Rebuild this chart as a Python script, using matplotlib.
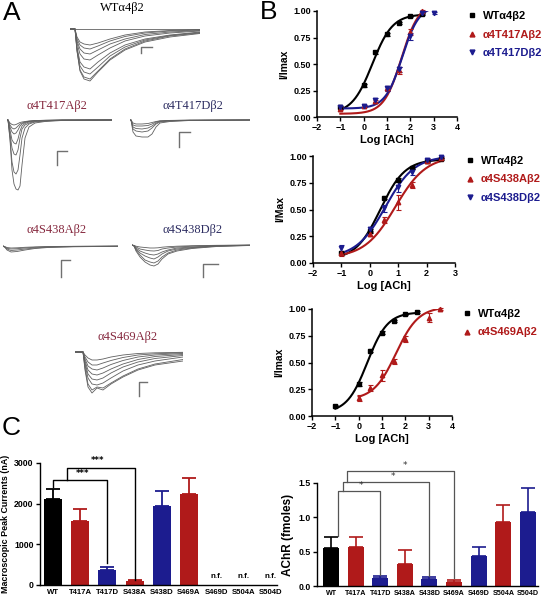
import numpy as np
import matplotlib
matplotlib.use('Agg')
import matplotlib.pyplot as plt
from matplotlib.lines import Line2D

W, H = 541, 600
fig = plt.figure(figsize=(W / 100, H / 100), dpi=100)

RED = '#b01a1a'
BLUE = '#1c1c8f'
MAROON = '#86293f'
NAVY = '#2e2e62'
TRACE = '#606060'
SANS = ['Liberation Sans', 'DejaVu Sans']
SERIF = ['Liberation Serif', 'DejaVu Serif']


def px_axes(x0, y0, x1, y1):
    return fig.add_axes([x0 / W, 1 - y1 / H, (x1 - x0) / W, (y1 - y0) / H])


# ---------------- Panel A data: current traces (inward amplitude, arbitrary units) ----------------
wt_t = [0, 5, 7, 10, 14, 20, 28, 40, 55, 75, 100, 130]
wt_traces = [
    [0, 0, 0, 0, 0, 0, 0, 0, 0, 0, 0, 0],
    [0, 0, 8, 13, 15, 16, 14, 10, 6, 3, 1.5, 0.5],
    [0, 0, 10, 16, 19, 20, 17, 12, 7.5, 4, 2, 1],
    [0, 0, 12, 20, 24, 25, 21, 15, 10, 5.5, 3, 1.5],
    [0, 0, 14, 25, 30, 31, 26, 19, 12, 7, 4, 2],
    [0, 0, 18, 33, 38, 40, 33, 24, 16, 10, 6, 3],
    [0, 0, 20, 37, 43, 45, 38, 27, 18, 11, 6.5, 3.5],
    [0, 0, 22, 41, 48, 50, 42, 30, 20, 12, 7, 4],
    [0, 0, 22, 42, 50, 52, 43, 31, 21, 13, 8, 4.5],
]
t417a_t = [0, 1, 3, 5, 7, 9, 11, 13, 15, 18, 22, 28, 38, 55, 105]
t417a_traces = [
    [0, 0, 3, 4.5, 5, 4.5, 3.5, 2.5, 2, 1.5, 1, 0.5, 0.3, 0.1, 0],
    [0, 0, 5, 8, 9, 8, 6, 4, 3, 2, 1.2, 0.6, 0.3, 0.1, 0],
    [0, 0, 7, 12, 14, 13, 10, 6, 4, 2.5, 1.5, 0.8, 0.4, 0.1, 0],
    [0, 0, 10, 20, 23, 24, 19, 11, 6, 3.5, 2, 1, 0.5, 0.2, 0],
    [0, 0, 14, 28, 34, 35, 30, 18, 9, 5, 3, 1.5, 0.8, 0.2, 0],
    [0, 0, 18, 42, 52, 54, 50, 35, 18, 8, 4, 2, 1, 0.3, 0],
    [0, 0, 20, 50, 64, 69, 70, 66, 45, 18, 7, 3, 1.5, 0.5, 0],
]
t417d_t = [0, 1, 3, 6, 12, 18, 22, 26, 30, 40, 60, 120]
t417d_traces = [
    [0, 0, 3, 4, 4, 3.5, 2.5, 1.5, 0.8, 0.4, 0.1, 0],
    [0, 0, 5, 6, 6, 5.5, 4, 2, 1, 0.5, 0.2, 0],
    [0, 0, 7, 8.5, 9, 8, 6, 3, 1.5, 0.8, 0.3, 0],
    [0, 0, 9, 11, 12, 11, 8, 4, 2, 1, 0.4, 0],
    [0, 0, 12, 16, 17, 17, 14, 7, 3, 1.5, 0.5, 0],
]
s438a_t = [0, 2, 4, 8, 14, 22, 32, 45, 70, 115]
s438a_traces = [
    [0, 0.7, 1.5, 2, 1.8, 1.3, 0.9, 0.5, 0.3, 0.1],
    [0, 1, 2.3, 3, 2.7, 2, 1.3, 0.8, 0.4, 0.1],
    [0, 1.2, 3, 4.5, 4, 3, 2, 1.2, 0.6, 0.2],
    [0, 1.5, 4, 6, 5.5, 4, 2.5, 1.5, 0.8, 0.3],
]
s438d_t = [0, 2, 4, 8, 13, 18, 22, 26, 30, 36, 45, 60, 85, 118]
s438d_traces = [
    [0, 0.4, 1.2, 2, 2.5, 3, 3, 2.8, 2.2, 1.7, 1.2, 0.7, 0.3, 0.1],
    [0, 0.6, 2, 4, 5, 5.8, 6, 5.5, 4, 3, 2, 1.2, 0.5, 0.1],
    [0, 0.8, 3, 6, 8, 9.5, 10, 9, 7, 5, 3, 2, 0.8, 0.2],
    [0, 1, 4, 8, 11, 13, 14, 12, 9, 6, 4, 2.5, 1, 0.3],
    [0, 1, 5, 10, 15, 17, 18, 16, 12, 8, 5, 3, 1.2, 0.4],
    [0, 1, 6, 12, 17, 20, 21, 19, 14, 9, 6, 3.5, 1.5, 0.5],
]
s469a_t = [0, 8, 10, 13, 17, 22, 28, 36, 48, 63, 80, 108]
s469a_traces = [
    [0, 0, 3, 6, 8, 8, 7, 5, 3, 1.5, 0.8, 0.3],
    [0, 0, 5, 10, 13, 13, 11, 8.5, 5.5, 3, 1.8, 0.8],
    [0, 0, 7, 14, 17, 18, 16, 12.5, 8.5, 5, 3, 1.5],
    [0, 0, 9, 18, 22, 23, 21, 17, 12, 7.5, 4.5, 2.5],
    [0, 0, 11, 22, 27, 28, 26, 21, 15, 10, 6.5, 3.5],
    [0, 0, 13, 26, 32, 33, 31, 26, 19, 13, 9, 5],
    [0, 0, 16, 32, 38, 35, 36, 31, 24, 17, 12, 7.5],
    [0, 0, 18, 35, 41, 36, 38, 32, 25, 18, 13, 9],
]
trace_titles = ['WTα4β2', 'α4T417Aβ2', 'α4T417Dβ2', 'α4S438Aβ2', 'α4S438Dβ2', 'α4S469Aβ2']

# layout of panel A: (x start px, baseline px, title x, title y, title colour, scale bar corner x, y, h len, v len)
a_layout = [
    (wt_t, wt_traces, 70, 29, 122, 8, 'black', 141, 47, 11, 6),
    (t417a_t, t417a_traces, 7, 120, 57, 106, MAROON, 57, 151, 10, 14),
    (t417d_t, t417d_traces, 130, 120, 193, 106, NAVY, 179, 132, 11, 15),
    (s438a_t, s438a_traces, 3, 246, 57, 230, MAROON, 61, 260, 9, 17),
    (s438d_t, s438d_traces, 132, 245, 193, 230, NAVY, 203, 264, 15, 13),
    (s469a_t, s469a_traces, 75, 352, 128, 337, MAROON, 139, 382, 8, 14),
]

for (t, traces, x0, base, tx, ty, tcol, bx, by, bh, bv), title in zip(a_layout, trace_titles):
    depth = max(max(tr) for tr in traces)
    ax = px_axes(x0, base - 4, x0 + t[-1], base + depth + 4)
    ax.set_xlim(0, t[-1])
    ax.set_ylim(-(depth + 4), 4)
    ax.axis('off')
    for tr in traces:
        ax.plot(t, [-v for v in tr], color=TRACE, lw=0.6)
    cx, cy = bx - x0, -(by - base)
    ax.plot([cx + bh, cx, cx], [cy, cy, cy - bv], color='#707070', lw=1.0, clip_on=False)
    fig.text(tx / W, 1 - ty / H, title, ha='center', va='center', family=SERIF,
             size=9, color=tcol)

# ---------------- Panel B data: concentration-response ----------------
def hill(x, bottom, top, logec50, n):
    return bottom + (top - bottom) / (1 + 10 ** ((logec50 - x) * n))

wt_x = [-1, 0, 0.5, 1, 1.5, 2, 2.5]
wt_y = [0.09, 0.30, 0.61, 0.78, 0.89, 0.95, 0.97]
wt_e = [0.01, 0.015, 0.015, 0.015, 0.01, 0.01, 0.01]
wt_fit = (0.03, 0.97, 0.37, 1.0)

t417a_x = [-1, 0, 0.5, 1, 1.5, 2, 2.5]
t417a_y = [0.08, 0.10, 0.15, 0.27, 0.44, 0.80, 1.00]
t417a_e = [0.01, 0.01, 0.015, 0.02, 0.03, 0.03, 0.01]
t417a_fit = (0.03, 1.08, 1.62, 1.15)

t417d_x = [-1, 0, 0.5, 1, 1.5, 2, 2.5, 3]
t417d_y = [0.09, 0.10, 0.16, 0.27, 0.45, 0.76, 0.98, 0.98]
t417d_e = [0.01, 0.01, 0.015, 0.02, 0.025, 0.03, 0.01, 0.01]
t417d_fit = (0.08, 1.05, 1.65, 1.2)

s438a_x = [-1, 0, 0.5, 1, 1.5, 2, 2.5]
s438a_y = [0.09, 0.27, 0.40, 0.57, 0.73, 0.95, 0.98]
s438a_e = [0.02, 0.02, 0.03, 0.07, 0.03, 0.02, 0.01]
s438a_fit = (0.05, 1.0, 0.9, 0.8)

s438d_x = [-1, 0, 0.5, 1, 1.5, 2, 2.5]
s438d_y = [0.14, 0.32, 0.51, 0.71, 0.85, 0.96, 0.99]
s438d_e = [0.03, 0.02, 0.03, 0.05, 0.03, 0.02, 0.01]
s438d_fit = (0.05, 1.0, 0.55, 0.85)

s469a_x = [0, 0.5, 1, 1.5, 2, 3, 3.5]
s469a_y = [0.17, 0.26, 0.38, 0.51, 0.72, 0.92, 1.00]
s469a_e = [0.03, 0.03, 0.05, 0.02, 0.03, 0.04, 0.01]
s469a_fit = (0.15, 1.02, 1.6, 0.9)

b_layout = [
    # axes px box, xmax, ylabel, series
    ((317, 11, 457, 117), 4, 'I/Imax',
     [(wt_x, wt_y, wt_e, wt_fit, 'black', 's', 'WTα4β2'),
      (t417a_x, t417a_y, t417a_e, t417a_fit, RED, '^', 'α4T417Aβ2'),
      (t417d_x, t417d_y, t417d_e, t417d_fit, BLUE, 'v', 'α4T417Dβ2')]),
    ((313, 156, 455, 263), 3, 'I/Max',
     [(wt_x, wt_y, wt_e, wt_fit, 'black', 's', 'WTα4β2'),
      (s438a_x, s438a_y, s438a_e, s438a_fit, RED, '^', 'α4S438Aβ2'),
      (s438d_x, s438d_y, s438d_e, s438d_fit, BLUE, 'v', 'α4S438Dβ2')]),
    ((312, 309, 452, 416), 4, 'I/Imax',
     [(wt_x, wt_y, wt_e, wt_fit, 'black', 's', 'WTα4β2'),
      (s469a_x, s469a_y, s469a_e, s469a_fit, RED, '^', 'α4S469Aβ2')]),
]

for box, xmax, ylab, series in b_layout:
    ax = px_axes(*box)
    handles, labels, cols = [], [], []
    for x, y, e, fit, c, m, lab in series:
        xx = np.linspace(min(x), max(x), 200)
        ax.plot(xx, hill(xx, *fit), color=c, lw=1.5, zorder=2)
        ax.errorbar(x, y, yerr=e, fmt=m, color=c, ms=3.2, capsize=1.8, elinewidth=0.8,
                    capthick=0.8, zorder=3, clip_on=False)
        handles.append(Line2D([], [], ls='none', marker=m, color=c, ms=3.5))
        labels.append(lab)
        cols.append(c)
    ax.set_xlim(-2, xmax)
    ax.set_ylim(0, 1.0)
    ax.set_xticks(range(-2, xmax + 1))
    ax.set_yticks([0, 0.25, 0.5, 0.75, 1.0])
    ax.set_yticklabels(['0.00', '0.25', '0.50', '0.75', '1.00'])
    for s in ['top', 'right']:
        ax.spines[s].set_visible(False)
    for s in ['left', 'bottom']:
        ax.spines[s].set_linewidth(1.1)
    ax.tick_params(direction='out', length=3, width=1.0, labelsize=6.5, pad=1.5)
    for lab in ax.get_xticklabels() + ax.get_yticklabels():
        lab.set_fontweight('bold')
        lab.set_family(SANS)
    ax.set_xlabel('Log [ACh]', family=SANS, weight='bold', size=8, labelpad=2)
    ax.set_ylabel(ylab, family=SANS, weight='bold', size=7.5, labelpad=3)
    leg = ax.legend(handles, labels, loc='upper left', bbox_to_anchor=(1.05, 1.04),
                    frameon=False, handlelength=0.7, handletextpad=0.6, labelspacing=0.75,
                    borderaxespad=0, prop=dict(family=SANS, weight='bold', size=8))
    for txt, c in zip(leg.get_texts(), cols):
        txt.set_color(c)

# ---------------- Panel C data ----------------
mutants = ['WT', 'T417A', 'T417D', 'S438A', 'S438D', 'S469A', 'S469D', 'S504A', 'S504D']
bar_colors = ['black', RED, BLUE, RED, BLUE, RED, BLUE, RED, BLUE]
peak_mean = [2120, 1570, 370, 100, 1950, 2230, np.nan, np.nan, np.nan]
peak_err = [230, 290, 80, 20, 350, 410, np.nan, np.nan, np.nan]
achr_mean = [0.55, 0.57, 0.11, 0.32, 0.10, 0.06, 0.43, 0.93, 1.08]
achr_err = [0.16, 0.14, 0.04, 0.20, 0.03, 0.03, 0.14, 0.25, 0.34]


def style_bar(ax, xsize):
    for s in ['top', 'right']:
        ax.spines[s].set_visible(False)
    for s in ['left', 'bottom']:
        ax.spines[s].set_linewidth(1.0)
    ax.tick_params(axis='y', direction='out', length=3, width=1.0, labelsize=6.3, pad=1.5)
    ax.tick_params(axis='x', direction='out', length=0, labelsize=xsize, pad=3)
    for lab in ax.get_xticklabels() + ax.get_yticklabels():
        lab.set_fontweight('bold')
        lab.set_family(SANS)


# left: macroscopic currents
axl = px_axes(40, 463, 277, 585)
pos = np.arange(len(mutants))
for i, (m, e, c) in enumerate(zip(peak_mean, peak_err, bar_colors)):
    if np.isnan(m):
        axl.text(i, 120, 'n.f.', ha='center', va='bottom', family=SANS, weight='bold',
                 size=5.8)
        continue
    axl.bar(i, m, width=0.66, color=c, zorder=2)
    axl.errorbar(i, m, yerr=[[0], [e]], color=c, capsize=5, elinewidth=1.3, capthick=1.3,
                 zorder=1)
axl.set_xlim(-0.48, 8.24)
axl.set_ylim(0, 3000)
axl.set_xticks(pos)
axl.set_xticklabels(mutants)
axl.set_yticks([0, 1000, 2000, 3000])
style_bar(axl, 5.6)
axl.set_ylabel('Macroscopic Peak Currents (nA)', family=SANS, weight='bold', size=6.4,
               labelpad=3)
# significance brackets
axl.plot([0, 0, 2, 2], [2400, 2580, 2580, 540], color='black', lw=1.0, clip_on=False)
axl.plot([0.5, 0.5, 3, 3], [2580, 2880, 2880, 130], color='black', lw=1.0, clip_on=False)
axl.text(1.1, 2640, '***', ha='center', va='bottom', size=6, weight='bold')
axl.text(1.65, 2940, '***', ha='center', va='bottom', size=6, weight='bold')

# right: AChR
axr = px_axes(317, 483, 538, 586)
for i, (m, e, c) in enumerate(zip(achr_mean, achr_err, bar_colors)):
    axr.bar(i, m, width=0.65, color=c, zorder=2)
    axr.errorbar(i, m, yerr=[[0], [e]], color=c, capsize=5, elinewidth=1.2, capthick=1.2,
                 zorder=1)
axr.set_xlim(-0.57, 8.41)
axr.set_ylim(0, 1.5)
axr.set_xticks(pos)
axr.set_xticklabels(mutants)
axr.set_yticks([0, 0.5, 1.0, 1.5])
axr.set_yticklabels(['0.0', '0.5', '1.0', '1.5'])
style_bar(axr, 5.1)
axr.set_ylabel('AChR (fmoles)', family=SANS, weight='bold', size=8.5, labelpad=3)
gray = '#555555'
axr.plot([0.28, 0.28, 2, 2], [0.73, 1.38, 1.38, 0.16], color=gray, lw=0.9, clip_on=False)
axr.plot([0.49, 0.49, 4, 4], [1.38, 1.51, 1.51, 0.15], color=gray, lw=0.9, clip_on=False)
axr.plot([0.65, 0.65, 5, 5], [1.51, 1.67, 1.67, 0.12], color=gray, lw=0.9, clip_on=False)
axr.text(1.22, 1.40, '*', ha='center', va='bottom', size=6.5, color='#333333')
axr.text(2.5, 1.53, '*', ha='center', va='bottom', size=6.5, color='#333333')
axr.text(3.0, 1.69, '*', ha='center', va='bottom', size=6.5, color='#333333')

# panel letters
for letter, x, y in [('A', 12, 13), ('B', 269, 12), ('C', 11, 428)]:
    fig.text(x / W, 1 - y / H, letter, ha='center', va='center', family=SANS, size=19)

fig.savefig('out.png', dpi=100)
